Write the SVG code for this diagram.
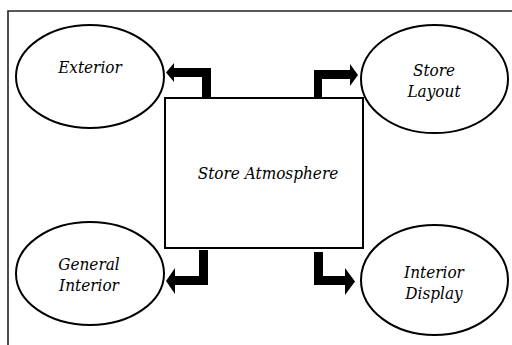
<svg xmlns="http://www.w3.org/2000/svg" width="512" height="345" viewBox="0 0 512 345">
<style>
.node{fill:#fff;stroke:#000;stroke-width:2}
.lbl{font-family:'DejaVu Serif Condensed','DejaVu Serif',serif;font-stretch:condensed;font-style:italic;font-size:17px;fill:#000;text-anchor:middle}
.arr{fill:#000;stroke:none}
.frame{fill:none;stroke:#222;stroke-width:1.6}
</style>
<rect width="512" height="345" fill="#fff"/>
<path class="frame" d="M8,345 V11 H512"/>
<g id="store-atmosphere">
<rect class="node" x="165" y="98" width="198" height="150"/>
<text class="lbl" x="268" y="179">Store Atmosphere</text>
</g>
<g id="exterior">
<ellipse class="node" cx="90" cy="76.5" rx="74" ry="51.5"/>
<text class="lbl" x="90" y="73">Exterior</text>
</g>
<g id="store-layout">
<ellipse class="node" cx="434.5" cy="79" rx="73.5" ry="54"/>
<text class="lbl" x="434" y="76">Store</text>
<text class="lbl" x="434" y="97">Layout</text>
</g>
<g id="general-interior">
<ellipse class="node" cx="90" cy="273.5" rx="74" ry="51.5"/>
<text class="lbl" x="89" y="270">General</text>
<text class="lbl" x="89" y="291">Interior</text>
</g>
<g id="interior-display">
<ellipse class="node" cx="434.5" cy="280" rx="73.5" ry="55"/>
<text class="lbl" x="434" y="278">Interior</text>
<text class="lbl" x="434" y="299">Display</text>
</g>
<g id="connectors">
<polygon class="arr" points="211,98 211,68 174,68 174,63 166,72.5 174,82 174,77 202,77 202,98"/>
<polygon class="arr" points="314,99 314,70 350,70 350,64 358,75 350,86 350,79 322,79 322,99"/>
<polygon class="arr" points="199,250 208,250 208,285 175,285 175,294 166,281 175,268 175,276 199,276"/>
<polygon class="arr" points="314,252 323,252 323,276 345,276 345,268 355,281.5 345,295 345,285 314,285"/>
</g>
</svg>
